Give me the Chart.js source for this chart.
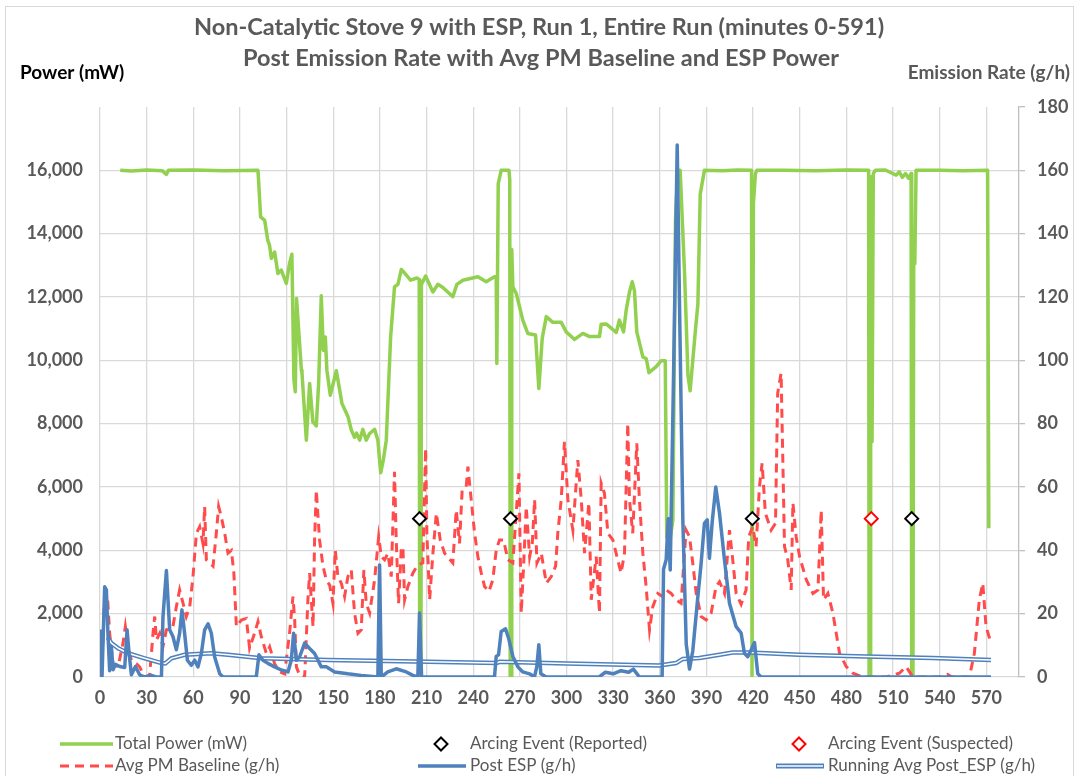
<!DOCTYPE html>
<html>
<head>
<meta charset="utf-8">
<style>
  body { margin: 0; background: #fff; }
  .wrap { width: 1077px; height: 776px; position: relative; }
</style>
</head>
<body>
<div class="wrap"><canvas id="stoveChart"></canvas></div>
<script src="https://cdn.jsdelivr.net/npm/chart.js"></script>
<script>
// minutes on the x axis
const powerMin = [13,20,30,40,42.7,44,60,80,101.6,103.3,105.9,107.9,109,110.2,112.3,114.4,116.6,119.8,121.9,123.4,124.7,125.6,126.4,129.5,129.9,132.7,134.8,136.9,139.1,140.6,142.3,143.6,144.9,145.9,148.1,152,155.6,159.5,161.6,163.7,165,167,169,171.2,173.4,176.6,178.7,180.5,182.2,184.1,186.9,189.4,191.6,193.8,196,199.7,203.8,205.3,205.6,206.4,206.7,209.4,214.1,217.3,220.5,226.9,229.5,233.4,243,248.4,253.7,254.8,255.2,256.1,258,263,263.5,263.8,264.4,264.8,265.5,267.7,271.9,275.1,280.1,282.2,284.4,287,291.2,296.6,299.8,305.2,310.5,314.8,321.2,322.3,325.5,332,334,336.7,338.4,340.5,342.3,343.7,345.2,349.1,351.3,353,357.7,360.9,363.5,364.5,365.5,366.5,368.4,370.1,371.6,373.1,375.9,378.1,379.5,381.2,383,384.5,386,388.7,400,410,419,419.3,419.9,420.2,421.5,422.4,440,460,480,494.3,494.6,495.3,495.6,496.2,496.5,497,497.3,498.7,505,512,514,516,518,520,521.6,522,522.8,523.3,524,524.8,540,555,570.8,571.6];
const powerVal = [16000,15980,16010,15990,15870,16000,16010,15990,16000,14530,14420,13790,13640,13220,13420,12740,12850,12430,13060,13350,9380,9010,11950,9690,9600,7480,9270,8060,7930,9270,12040,10320,10740,9690,8900,9670,8640,8220,7800,7570,7700,7480,7820,7480,7690,7820,7480,6450,6850,7480,10740,12320,12400,12870,12750,12530,12600,12550,0,0,12400,12660,12160,12400,12300,12010,12400,12530,12640,12480,12640,12640,9900,15580,16000,16000,15700,0,0,13500,12320,12110,11270,10850,10800,9110,10700,11380,11200,11200,10900,10660,10850,10750,10750,11140,11150,10880,11270,10900,11590,12160,12480,12200,10900,10110,10050,9610,9800,9990,9990,4400,5000,4300,4960,14460,16000,16000,12790,9540,9040,9990,11000,11780,15250,16000,15990,16010,16000,0,0,14950,15900,16000,16000,15990,16010,16000,0,0,15800,15800,7430,7430,15900,16000,16010,15850,15950,15780,15900,15750,15900,0,0,13050,13050,16000,16000,15990,16000,4700];

const baseMin = [0,2,3,4.8,6.2,8.4,11.6,14.8,16.3,18,20.2,23.4,25.5,28.7,31.9,34.1,35.2,36.3,38.4,40.5,42.7,46.9,49.1,51.2,53.4,55.5,57.7,59.8,62,64.1,66.2,67.3,68.4,70.5,72.7,74.8,76.3,78,80.2,82.3,84.5,86.1,87.7,90.9,94.1,96.2,99.4,101.6,103.7,107,109.1,112.3,115.5,118.7,121.9,124.1,125.2,126.3,128.4,131.6,133.7,134.8,137,138,139.1,141.2,143.4,145.5,147.7,149.8,151.3,153,155.2,157.3,159.4,161.6,163.7,165.9,168,169.7,171.2,173.4,176.6,179.2,180.9,183,185.1,187.3,189.4,190.5,192,193.7,194.8,195.9,198,201.2,204.4,207.6,209.4,210.2,212,214.1,216.3,218.8,221.6,226.9,229.1,231.2,232.9,235.5,236.6,238.7,240.9,243,245.2,247.3,250.1,252.6,254.8,256.9,259.5,262.3,265.5,269.4,270.9,272.4,274.1,276.3,278,279.5,281,283.8,287,290.2,293,294.4,296.6,298.7,300.9,304.1,307.3,309.5,311.6,314.4,315.9,319.1,321.2,322.3,324.4,326.6,329.8,331.9,335.1,337.3,339.4,340.5,342.6,345.2,346.9,349.1,351.2,353.4,355.5,358.7,361.9,364.1,367.3,370.5,373.7,376.9,379.1,381.2,383.4,386.6,389.8,393,396.2,398.4,401.6,404.8,406.9,409.1,412.3,415.5,417.2,419.8,421.9,424.1,425.8,427.9,431.6,434.4,435.8,438,439.1,440.2,442.3,444.5,445.6,447.7,449.9,454.2,458.5,461.7,463.8,465.3,468.1,471.3,475.6,479.9,484.2,490.5,505.5,514.1,518.4,522.7,540,545,548,559.1,562.3,565.5,567.7,569.8,572.4];
const baseVal = [0,12,26,25.4,13.8,4.2,3.2,10.7,15.9,9.6,5.3,4.2,3.2,0,0.5,13.8,19.1,11.7,13.8,9.6,14.9,15.9,22.2,27.5,23.3,19.1,22.2,31.7,45.4,47.5,42.2,53.8,37,36,35,45.4,53.8,50.6,45.4,39.1,40,32.8,15.9,18,18.5,9.1,13.8,17.5,12.8,7.4,9.5,4.2,1.6,1,13.8,25.4,18,3.2,0.5,0,24.4,32.8,15.9,43.3,59,43.3,35,30.7,29,23.3,40,31.7,29.6,25.4,31.7,33.8,20.2,13.8,14.9,33.8,23.3,20.2,30.7,44.3,38,37,39,31.7,64.8,43.3,23.3,40,41.2,24.4,28.6,32.8,35.4,36,72.2,45.4,24.4,39.1,51.7,43.3,39.1,36,52.7,42.2,59,60.1,66.4,56,45.4,38,32.8,28.6,27,30.7,40,43.3,43.3,37,36,64.3,20.2,35,53.8,38,42.2,56,36,39.1,29.6,31.7,35,45.4,56,74.3,56,46.4,68.5,56,39.1,55,24.4,38,20.2,61.2,58,45.4,43.3,39.1,32.8,39.1,80.1,56,45.4,73.8,56,39.1,28.6,14.9,22.2,26.4,25.4,27.5,26.4,24.4,23.3,46.4,44.3,36,26.4,19.1,18,20.2,28.6,30.1,26.4,46.4,37,26.4,23,27.5,44.3,47.5,41.2,60.1,67.5,51.7,46.4,48.5,89.6,95.9,69,41.2,37,27.5,55,44.3,38,30.7,26.4,27.5,52.7,24.4,26.4,20.2,7.5,3.3,1.2,0,0,1.2,3.3,0,0,0.8,0,0,7.5,24.4,29.6,15.9,11.7];

const postMin = [0,1.3,3,4.1,5.1,6.2,7.3,8.4,9.9,12.7,15.9,17.4,18.7,20.2,22.8,25.5,28.7,33,36,39.5,40.5,42.7,44.8,46.9,49.1,51.2,52.7,54.4,56.2,58.7,60.9,63,65.2,67.3,69.5,71.6,73.7,77,79.1,100.5,102.2,104.8,108,112.3,116.6,120.9,123,124.5,126.3,128.4,131.6,134.8,138,142.3,145.5,150.9,159.4,168,178.7,179.8,180.9,185.1,190.5,197,201.2,204.4,205.5,206.8,253.7,254.8,256.3,258,260.8,262.9,265.5,268.7,271.9,276.2,279.4,280.9,282.2,283.5,287,321,325,330,335,340,343,346.9,361.5,362.4,364.1,365.4,366.7,368.8,371.2,372.7,374.8,377,379.1,381.2,384.4,386.6,388.7,390.5,391.9,393.7,396,398.4,401.6,404.8,409.1,412.3,414.4,416.6,418.7,420.9,423,425.2,573];
const postVal = [15,0,28.5,27.5,13.8,2,9.6,2.3,4,3.3,3,14.9,7.5,0.7,3.3,0.7,0,0.5,0,0,19,33.6,14.9,12.8,8.6,13.8,21.2,13.8,5.3,3.7,5.3,3.2,7.5,14.9,16.8,13.8,6.4,1,0,0,7,5.3,4.3,3.2,2.2,1.6,5.3,13.8,5.3,6.4,10.7,9,7.4,3.2,3.2,1.6,1,0.5,0,35.4,0,1.6,2.6,1.6,0.5,0,20.2,0,0,6.5,7,14.4,15.2,12,6.5,3.2,1.6,1,0,3.2,10.2,1,0,0,1.5,1,2,1.5,2.5,0,0,34,37,50,33.8,94,168,117,50,10.4,2.5,8.2,25,36,48.5,49.6,37.5,49,60,51.7,37,23.3,15.9,13.9,7.5,6.4,8.5,10.9,1,0,0];

const avgMin = [5,7.3,12,18,28.7,39.5,42,45.9,54.4,71.6,82.3,103.7,146.6,202.3,255,257,300,359.6,370.5,374.8,385.5,398.4,406.9,417.6,449.7,492.6,535.5,573];
const avgVal = [12.5,10.7,9,7.5,5.9,4.4,4.3,5.9,7,7.5,7,5.9,5.4,4.9,4.4,4.8,4.3,3.6,4.4,5.7,6,7,7.7,7.7,7,6.5,6,5.4];

const arcRepMin = [205.5, 264, 419.5, 522];
const arcRepVal = [50, 50, 50, 50];
const arcSusMin = [496];
const arcSusVal = [50];

const xTicks = [0,30,60,90,120,150,180,210,240,270,300,330,360,390,420,450,480,510,540,570];

const titleLines = ['Non-Catalytic Stove 9 with ESP, Run 1, Entire Run (minutes 0-591)',
                    'Post Emission Rate with Avg PM Baseline and ESP Power'];

const GREEN = '#92D050';
const RED = '#FF4B4B';
const BLUE = '#4F81BD';
const GRID = '#D9D9D9';
const TXT = '#595959';
const FONT = 'Lato';

function pts(xs, ys) {
  return xs.map(function(x, i) { return { x: x, y: ys[i] }; });
}

// titles, axis titles, legend and chart border
const decorations = {
  id: 'decorations',
  afterDraw(chart) {
    const c = chart.ctx;
    c.save();
    c.strokeStyle = GRID;
    c.lineWidth = 1;
    c.strokeRect(5.5, 6.5, 1068, 775);

    c.fillStyle = TXT;
    c.textAlign = 'center';
    c.textBaseline = 'middle';
    c.font = 'bold 23.5px ' + FONT;
    c.fillText(titleLines[0], 539, 27);
    c.fillText(titleLines[1], 541, 58);

    c.font = 'bold 19px ' + FONT;
    c.textAlign = 'left';
    c.fillStyle = '#000';
    c.fillText('Power (mW)', 20, 73);
    c.textAlign = 'right';
    c.fillStyle = TXT;
    c.fillText('Emission Rate (g/h)', 1070, 73);

    // legend
    c.font = '17px ' + FONT;
    c.textAlign = 'left';
    c.lineCap = 'butt';
    const r1 = 744, r2 = 766;

    c.strokeStyle = GREEN; c.lineWidth = 3.5;
    c.beginPath(); c.moveTo(60, r1); c.lineTo(113, r1); c.stroke();
    c.fillText('Total Power (mW)', 115, r1);

    function diamond(cx, cy, col) {
      c.beginPath();
      c.moveTo(cx, cy - 6.5); c.lineTo(cx + 6.5, cy); c.lineTo(cx, cy + 6.5); c.lineTo(cx - 6.5, cy);
      c.closePath();
      c.fillStyle = '#fff'; c.fill();
      c.strokeStyle = col; c.lineWidth = 2; c.stroke();
      c.fillStyle = TXT;
    }
    diamond(441, r1, '#000');
    c.fillText('Arcing Event (Reported)', 470, r1);
    diamond(799, r1, '#FF0000');
    c.fillText('Arcing Event (Suspected)', 828, r1);

    c.strokeStyle = RED; c.lineWidth = 3; c.setLineDash([9, 6]);
    c.beginPath(); c.moveTo(60, r2); c.lineTo(113, r2); c.stroke();
    c.setLineDash([]);
    c.fillText('Avg PM Baseline (g/h)', 115, r2);

    c.strokeStyle = BLUE; c.lineWidth = 3.5;
    c.beginPath(); c.moveTo(418, r2); c.lineTo(466, r2); c.stroke();
    c.fillText('Post ESP (g/h)', 470, r2);

    c.lineWidth = 5;
    c.beginPath(); c.moveTo(776, r2); c.lineTo(824, r2); c.stroke();
    c.strokeStyle = '#fff'; c.lineWidth = 1.5;
    c.beginPath(); c.moveTo(777, r2); c.lineTo(823, r2); c.stroke();
    c.fillText('Running Avg Post_ESP (g/h)', 828, r2);
    c.restore();
  }
};

const ctx = document.getElementById('stoveChart');

new Chart(ctx, {
  type: 'line',
  data: {
    datasets: [
      {
        label: 'Arcing Event (Reported)',
        data: pts(arcRepMin, arcRepVal),
        yAxisID: 'y2',
        showLine: false,
        pointStyle: 'rectRot',
        pointRadius: 6.5,
        pointBorderWidth: 2,
        pointBorderColor: '#000',
        pointBackgroundColor: '#fff',
        order: 0
      },
      {
        label: 'Arcing Event (Suspected)',
        data: pts(arcSusMin, arcSusVal),
        yAxisID: 'y2',
        showLine: false,
        pointStyle: 'rectRot',
        pointRadius: 6.5,
        pointBorderWidth: 2,
        pointBorderColor: '#FF0000',
        pointBackgroundColor: '#fff',
        order: 1
      },
      {
        label: 'Post ESP (g/h)',
        data: pts(postMin, postVal),
        yAxisID: 'y2',
        borderColor: BLUE,
        borderWidth: 3.5,
        pointRadius: 0,
        borderJoinStyle: 'round',
        order: 2
      },
      {
        label: 'Running Avg Post_ESP (g/h)',
        data: pts(avgMin, avgVal),
        yAxisID: 'y2',
        borderColor: '#fff',
        borderWidth: 1.5,
        pointRadius: 0,
        order: 3
      },
      {
        label: 'Running Avg Post_ESP (g/h) outline',
        data: pts(avgMin, avgVal),
        yAxisID: 'y2',
        borderColor: BLUE,
        borderWidth: 4.5,
        pointRadius: 0,
        order: 4
      },
      {
        label: 'Avg PM Baseline (g/h)',
        data: pts(baseMin, baseVal),
        yAxisID: 'y2',
        borderColor: RED,
        borderWidth: 3,
        borderDash: [9, 6],
        pointRadius: 0,
        order: 5
      },
      {
        label: 'Total Power (mW)',
        data: pts(powerMin, powerVal),
        yAxisID: 'y',
        borderColor: GREEN,
        borderWidth: 3.5,
        pointRadius: 0,
        borderJoinStyle: 'round',
        order: 6
      }
    ]
  },
  options: {
    responsive: true,
    maintainAspectRatio: false,
    animation: false,
    layout: { padding: { left: 0, right: 0, top: 107, bottom: 59 } },
    plugins: {
      legend: { display: false },
      tooltip: { enabled: false }
    },
    scales: {
      x: {
        type: 'linear',
        min: 0,
        max: 591,
        afterBuildTicks: function(scale) {
          scale.ticks = xTicks.map(function(v) { return { value: v }; });
        },
        afterFit: function(scale) { scale.height = 40; },
        grid: { color: GRID, lineWidth: 1.3, drawTicks: false },
        border: { display: false },
        ticks: { color: TXT, font: { family: FONT, size: 18, weight: 'bold' }, padding: 10, maxRotation: 0 }
      },
      y: {
        position: 'left',
        min: 0,
        max: 18000,
        afterFit: function(scale) { scale.width = 100; },
        grid: {
          color: function(c) { return c.tick && c.tick.value === 18000 ? 'rgba(0,0,0,0)' : GRID; },
          lineWidth: 1.3,
          drawTicks: false
        },
        border: { display: false },
        ticks: {
          stepSize: 2000,
          color: TXT,
          padding: 17,
          font: { family: FONT, size: 18, weight: 'bold' },
          callback: function(v) { return v === 18000 ? '' : v.toLocaleString('en-US'); }
        }
      },
      y2: {
        position: 'right',
        min: 0,
        max: 180,
        afterFit: function(scale) { scale.width = 58; },
        grid: { drawOnChartArea: false, color: '#BFBFBF', tickLength: 6, lineWidth: 1.3 },
        border: { display: true, color: '#BFBFBF', width: 1.3 },
        ticks: {
          stepSize: 20,
          color: TXT,
          padding: 12,
          font: { family: FONT, size: 18, weight: 'bold' }
        }
      }
    }
  },
  plugins: [decorations]
});
</script>
</body>
</html>
